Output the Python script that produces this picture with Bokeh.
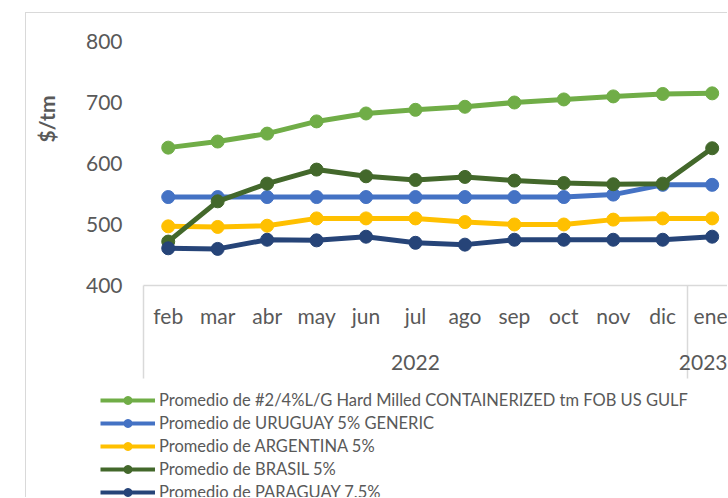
from bokeh.plotting import figure
from bokeh.models import (Range1d, FixedTicker, LinearAxis, Legend, LegendItem, Title)
from bokeh.embed import file_html
from bokeh.resources import INLINE

# ---------------- data ----------------
months = ["feb", "mar", "abr", "may", "jun", "jul", "ago", "sep", "oct", "nov", "dic", "ene"]
years = ["2022", "2022", "2022", "2022", "2022", "2022", "2022", "2022", "2022", "2022", "2022", "2023"]

us_gulf   = [626, 636, 649, 669, 682, 688, 693, 700, 705, 710, 714, 715]
uruguay   = [545, 545, 545, 545, 545, 545, 545, 545, 545, 549, 565, 565]
argentina = [497, 496, 498, 510, 510, 510, 504, 500, 500, 508, 510, 510]
brasil    = [472, 538, 567, 590, 579, 573, 578, 572, 568, 566, 567, 625]
paraguay  = [461, 460, 475, 474, 480, 470, 467, 475, 475, 475, 475, 480]

series_names = [
    "Promedio de #2/4%L/G Hard Milled CONTAINERIZED tm FOB US GULF",
    "Promedio de URUGUAY 5% GENERIC",
    "Promedio de ARGENTINA 5%",
    "Promedio de BRASIL 5%",
    "Promedio de PARAGUAY 7.5%",
]
series_values = [us_gulf, uruguay, argentina, brasil, paraguay]
series_colors = ["#70AD47", "#4472C4", "#FFC000", "#43682B", "#264478"]

y_ticks = [400, 500, 600, 700, 800]

FONT = "Lato"
GRAY = "#595959"
LIGHT = "#D9D9D9"

x = list(range(len(months)))

# ---------------- main chart ----------------
p = figure(width=702, height=373, output_backend="svg", toolbar_location=None,
           x_range=Range1d(-0.5, 11.33), y_range=Range1d(400, 800),
           min_border_left=117, min_border_right=0, min_border_top=28,
           min_border_bottom=101, x_axis_type=None)
p.styles = {"margin-left": "25px", "margin-top": "12px",
            "border-left": "1px solid #D9D9D9", "border-top": "1px solid #D9D9D9"}
p.outline_line_color = None
p.xgrid.visible = False
p.ygrid.visible = False
p.background_fill_color = "white"
p.border_fill_color = "white"

# y axis (a blank axis label only reserves room for the title outside it)
ya = p.yaxis[0]
ya.ticker = FixedTicker(ticks=y_ticks)
ya.axis_line_color = None
ya.major_tick_line_color = None
ya.minor_tick_line_color = None
ya.major_label_text_font = FONT
ya.major_label_text_font_size = "21px"
ya.major_label_text_color = GRAY
ya.major_label_standoff = 15
ya.axis_label = " "
ya.axis_label_text_font_size = "1px"
ya.axis_label_standoff = 15

# month axis (group separators drawn as long minor ticks)
group_edges = [i - 0.5 for i in range(len(years)) if i == 0 or years[i] != years[i - 1]]
month_axis = LinearAxis(
    ticker=FixedTicker(ticks=x, minor_ticks=group_edges),
    major_label_overrides={i: m for i, m in enumerate(months)},
    axis_line_color=LIGHT, axis_line_width=1.5,
    major_tick_line_color=None, major_tick_out=0, major_tick_in=0,
    minor_tick_line_color=LIGHT, minor_tick_line_width=1.5,
    minor_tick_out=93, minor_tick_in=0,
    major_label_text_font=FONT, major_label_text_font_size="21px",
    major_label_text_color=GRAY, major_label_standoff=-76,
)
p.add_layout(month_axis, "below")

# year axis
year_names = []
for yv in years:
    if yv not in year_names:
        year_names.append(yv)
year_centers = []
for yv in year_names:
    idx = [i for i, v in enumerate(years) if v == yv]
    year_centers.append(sum(idx) / len(idx))
year_axis = LinearAxis(
    ticker=FixedTicker(ticks=year_centers),
    major_label_overrides={c: n for c, n in zip(year_centers, year_names)},
    axis_line_color=None, major_tick_line_color=None, minor_tick_line_color=None,
    major_tick_out=0, major_tick_in=0,
    major_label_text_font=FONT, major_label_text_font_size="21px",
    major_label_text_color=GRAY, major_label_standoff=24,
)
p.add_layout(year_axis, "below")

# y axis title
p.add_layout(Title(text="$/tm", align="right", offset=54, text_font=FONT,
                   text_font_size="21px", text_font_style="bold",
                   text_color=GRAY, standoff=10), "left")

# ---------------- series ----------------
for vals, col in zip(series_values, series_colors):
    p.line(x, vals, line_color=col, line_width=5)
    p.scatter(x, vals, size=13, fill_color=col, line_color=col)

# ---------------- legend panel ----------------
lg = figure(width=702, height=112, output_backend="svg", toolbar_location=None,
            x_range=Range1d(0, 1), y_range=Range1d(0, 1),
            min_border_left=0, min_border_right=0, min_border_top=0,
            min_border_bottom=0, x_axis_type=None, y_axis_type=None)
lg.styles = {"margin-left": "25px", "border-left": "1px solid #D9D9D9"}
lg.outline_line_color = None
lg.xgrid.visible = False
lg.ygrid.visible = False

items = []
for name, vals, col in zip(series_names, series_values, series_colors):
    # proxies: same data, outside this panel's ranges, only their legend glyph shows
    lr = lg.line(x, vals, line_color=col, line_width=4)
    sr = lg.scatter(x, vals, size=10, fill_color=col, line_color=col)
    items.append(LegendItem(label=name, renderers=[lr, sr]))

legend = Legend(items=items, location=(74, -5), padding=0, margin=0,
                spacing=3, glyph_width=55, glyph_height=20, label_height=20,
                label_standoff=4, label_text_font=FONT, label_text_font_size="16.5px",
                label_text_color=GRAY, border_line_color=None,
                background_fill_alpha=0)
lg.add_layout(legend, "center")

open("out.html", "w").write(file_html([p, lg], INLINE))
